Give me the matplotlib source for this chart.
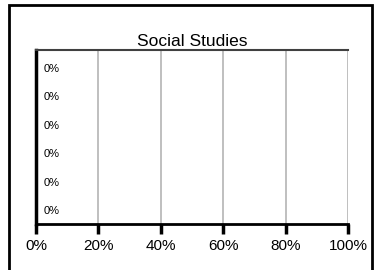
import matplotlib
matplotlib.use('Agg')
import matplotlib.pyplot as plt
from matplotlib.patches import Rectangle
from matplotlib.ticker import PercentFormatter

plt.rcParams['font.family'] = ['Liberation Sans', 'DejaVu Sans']

# six categories, all at zero
categories = ['A', 'B', 'C', 'D', 'E', 'F']
values = [0, 0, 0, 0, 0, 0]
labels = ['0%', '0%', '0%', '0%', '0%', '0%']
xticks = [0, 20, 40, 60, 80, 100]

fig = plt.figure(figsize=(3.76, 2.70), dpi=100)
ax = fig.add_axes([36 / 376, 46 / 270, 312 / 376, 174 / 270])

ypos = list(range(len(categories)))[::-1]
ax.barh(ypos, values, height=0.6, color='#4f81bd')
for y, v, lab in zip(ypos, values, labels):
    ax.text(v + 2.5, y, lab, fontsize=8, va='center', ha='left')

ax.set_xlim(0, 100)
ax.set_ylim(-0.46, 5.67)
ax.set_xticks(xticks)
ax.xaxis.set_major_formatter(PercentFormatter(decimals=0))
ax.set_yticks([])
ax.tick_params(axis='x', direction='out', length=7, width=2.5, labelsize=11, pad=4)
ax.grid(axis='x', color='#b4b4b4', linewidth=1.2)
ax.set_axisbelow(True)

ax.spines['left'].set_linewidth(2.5)
ax.spines['bottom'].set_linewidth(2)
ax.spines['top'].set_color('#404040')
ax.spines['top'].set_linewidth(1.5)
ax.spines['right'].set_visible(False)

ax.set_title('Social Studies', fontsize=12.5, pad=3)

fig.patches.append(Rectangle((9 / 376, -0.05), 363 / 376, 1.05 - 5 / 270,
                             transform=fig.transFigure, fill=False,
                             edgecolor='black', linewidth=2))

fig.savefig('out.png', dpi=100)
